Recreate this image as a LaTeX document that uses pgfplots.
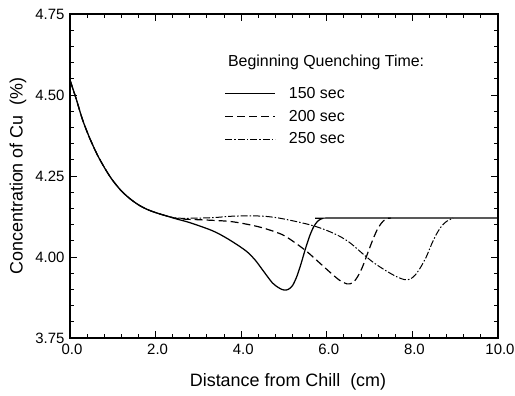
\documentclass[border=0pt]{standalone}
\usepackage{pgfplots}
\pgfplotsset{compat=1.18}
\usepackage{fontspec}
\setmainfont{Liberation Sans}
\begin{document}
\begin{tikzpicture}
\useasboundingbox (-70bp,-58bp) rectangle (445bp,338bp);
\begin{axis}[
  at={(0,0)}, anchor=south west,
  scale only axis,
  width=428bp, height=324bp,
  xmin=0, xmax=10, ymin=3.75, ymax=4.75,
  xtick={0,2,...,10}, ytick={3.75,4.00,4.25,4.50,4.75},
  minor x tick num=4, minor y tick num=4,
  tick align=inside, tick pos=both,
  major tick length=7bp, minor tick length=4bp,
  axis line style={line width=1.5pt},
  every tick/.style={line width=1pt,black},
  /pgf/number format/assume math mode=true,
  x tick label style={/pgf/number format/fixed, /pgf/number format/fixed zerofill, /pgf/number format/precision=1, yshift=-3bp, xshift=2bp},
  y tick label style={/pgf/number format/fixed, /pgf/number format/fixed zerofill, /pgf/number format/precision=2, xshift=-2bp},
  tick label style={font=\fontsize{15}{17}\selectfont},
  xlabel={Distance from Chill\ \ (cm)},
  ylabel={Concentration of Cu\ \ (\%)},
  every axis x label/.style={at={(axis description cs:0.5,0)}, anchor=center, yshift=-44bp, xshift=4bp},
  every axis y label/.style={at={(axis description cs:0,0.5)}, rotate=90, anchor=center, yshift=52bp},
  label style={font=\fontsize{18}{21}\selectfont},
  legend style={at={(axis cs:3.54,4.536)}, anchor=north west, draw=none, fill=none,
    font=\fontsize{16}{19}\selectfont, row sep=6bp},
  legend cell align=left,
  legend image code/.code={\draw[#1] (0bp,0bp) -- (50bp,0bp); \path (61bp,0bp);},
]
\addplot[black, line width=1.25pt, smooth, tension=0.5] coordinates {
(0,4.546) (0.14,4.490) (0.29,4.425) (0.45,4.370) (0.64,4.315) (0.84,4.268)
(1.0,4.236) (1.2,4.204) (1.4,4.180) (1.6,4.161) (1.8,4.147) (2.0,4.137)
(2.25,4.127) (2.5,4.117) (2.8,4.106) (3.33,4.081) (3.7,4.055) (4.11,4.019)
(4.33,3.990) (4.50,3.960) (4.73,3.920) (4.89,3.904) (5.00,3.898) (5.10,3.900)
(5.20,3.912) (5.30,3.940) (5.40,3.980) (5.50,4.025) (5.60,4.065) (5.70,4.095)
(5.80,4.112) (5.90,4.119) (6.0,4.12) (10,4.12)};
\addlegendentry{150 sec}
\addplot[black, line width=1.2pt, smooth, tension=0.5, dash pattern=on 8bp off 4bp] coordinates {
(0,4.546) (0.14,4.490) (0.29,4.425) (0.45,4.370) (0.64,4.315) (0.84,4.268)
(1.0,4.236) (1.2,4.204) (1.4,4.180) (1.6,4.161) (1.8,4.147) (2.0,4.137)
(2.25,4.127) (2.55,4.118) (3.2,4.114) (3.72,4.110) (4.1,4.102) (4.50,4.090)
(4.96,4.069) (5.28,4.042) (5.55,4.015) (5.83,3.982) (6.10,3.950) (6.30,3.928)
(6.47,3.917) (6.60,3.920) (6.70,3.935) (6.82,3.965) (6.95,4.010) (7.08,4.055)
(7.20,4.090) (7.32,4.111) (7.42,4.119) (7.5,4.12)};
\addlegendentry{200 sec}
\addplot[black, line width=1pt, smooth, tension=0.5, dash pattern=on 7bp off 2bp on 1.5bp off 2bp] coordinates {
(0,4.546) (0.14,4.490) (0.29,4.425) (0.45,4.370) (0.64,4.315) (0.84,4.268)
(1.0,4.236) (1.2,4.204) (1.4,4.180) (1.6,4.161) (1.8,4.147) (2.0,4.137)
(2.25,4.127) (2.5,4.120) (3.0,4.120) (3.4,4.122) (3.8,4.126) (4.27,4.127)
(4.6,4.125) (4.89,4.120) (5.3,4.109) (5.67,4.097) (6.0,4.082) (6.30,4.064)
(6.55,4.043) (6.84,4.010) (7.1,3.982) (7.39,3.957) (7.62,3.940) (7.82,3.930)
(7.95,3.932) (8.07,3.945) (8.20,3.970) (8.33,4.002) (8.45,4.040) (8.56,4.070)
(8.68,4.095) (8.80,4.110) (8.95,4.120)};
\addlegendentry{250 sec}
\node[anchor=west, font=\fontsize{16}{19}\selectfont] at (axis cs:3.61,4.60) {Beginning Quenching Time:};
\end{axis}
\end{tikzpicture}
\end{document}
